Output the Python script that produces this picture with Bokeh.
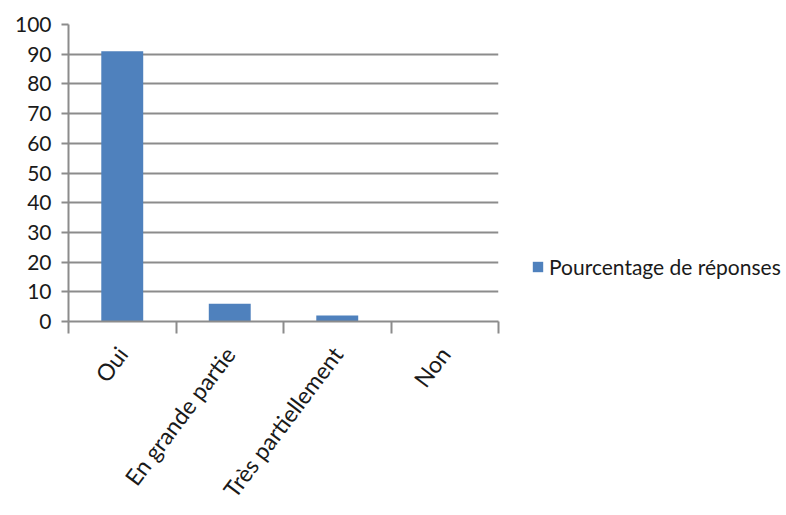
import math
from bokeh.plotting import figure
from bokeh.models import Range1d, FixedTicker, Legend, LegendItem
from bokeh.embed import file_html
from bokeh.resources import INLINE

categories = ["Oui", "En grande partie", "Très partiellement", "Non"]
values = [91, 6, 2, 0]
series_name = "Pourcentage de réponses"
y_ticks = [0, 10, 20, 30, 40, 50, 60, 70, 80, 90, 100]

FONT = "Lato"
BAR = "#4F81BD"
GRID = "#8C8C8C"

xs = list(range(1, len(categories) + 1))

p = figure(width=770, height=499, output_backend="svg", toolbar_location=None,
           x_range=Range1d(0.5, len(categories) + 0.5), y_range=Range1d(0, 100),
           min_border_left=68, min_border_top=24, min_border_right=272, min_border_bottom=40)
p.frame_width = 430
p.frame_height = 297
p.outline_line_color = None
p.background_fill_color = "white"
p.border_fill_color = "white"

r = p.vbar(x=xs, top=values, width=0.39, fill_color=BAR, line_color=None)

p.xgrid.grid_line_color = None
p.ygrid.grid_line_color = GRID
p.ygrid.grid_line_width = 2
p.ygrid.ticker = FixedTicker(ticks=y_ticks)

p.yaxis.ticker = FixedTicker(ticks=y_ticks)
p.yaxis.axis_line_color = GRID
p.yaxis.axis_line_width = 2
p.yaxis.major_tick_line_color = GRID
p.yaxis.major_tick_line_width = 2
p.yaxis.major_tick_out = 7
p.yaxis.major_tick_in = 0
p.yaxis.minor_tick_line_color = None
p.yaxis.major_label_text_font = FONT
p.yaxis.major_label_text_font_size = "21px"
p.yaxis.major_label_text_color = "#1a1a1a"
p.yaxis.major_label_standoff = 10

p.xaxis.ticker = FixedTicker(ticks=xs, minor_ticks=[x - 0.5 for x in xs] + [xs[-1] + 0.5])
p.xaxis.major_label_overrides = {x: c for x, c in zip(xs, categories)}
p.xaxis.axis_line_color = GRID
p.xaxis.axis_line_width = 2
p.xaxis.major_tick_line_color = None
p.xaxis.minor_tick_line_color = GRID
p.xaxis.minor_tick_line_width = 2
p.xaxis.minor_tick_out = 12
p.xaxis.minor_tick_in = 0
p.xaxis.major_label_orientation = math.radians(53)
p.xaxis.major_label_text_font = FONT
p.xaxis.major_label_text_font_size = "23px"
p.xaxis.major_label_text_color = "#1a1a1a"
p.xaxis.major_label_standoff = 16

legend = Legend(items=[LegendItem(label=series_name, renderers=[r])],
                location=(33, 42), border_line_color=None, background_fill_alpha=0,
                padding=0, margin=0, glyph_width=13, glyph_height=13, label_standoff=5,
                label_text_font=FONT, label_text_font_size="21px", label_text_color="#1a1a1a")
p.add_layout(legend, "right")

open("out.html", "w").write(file_html(p, INLINE))
